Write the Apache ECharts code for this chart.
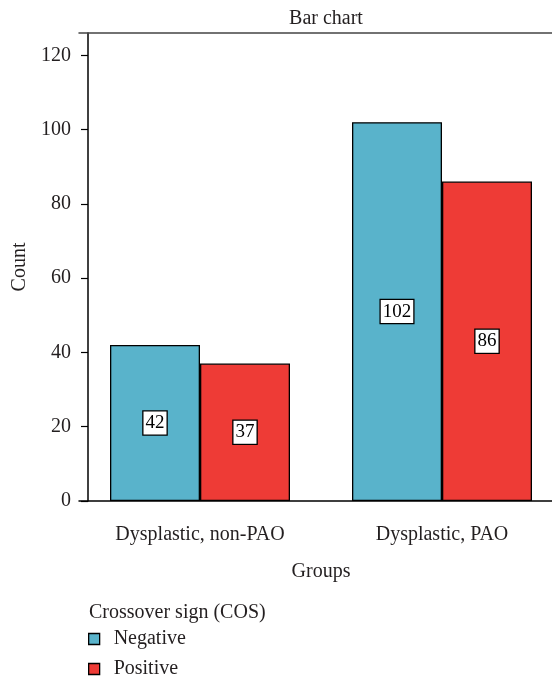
<!DOCTYPE html>
<html><head><meta charset="utf-8">
<script src="https://cdn.jsdelivr.net/npm/echarts@6/dist/echarts.min.js"></script>
<style>html,body{margin:0;padding:0;background:#fff}#c{width:552px;height:680px}</style>
</head><body><div id="c"></div>
<script>
const categories = ['Dysplastic, non-PAO', 'Dysplastic, PAO'];
const negativeValues = [42, 102];
const positiveValues = [37, 86];
const seriesNames = ['Negative', 'Positive'];
const yTicks = [0, 20, 40, 60, 80, 100, 120];

const FONT = '"Liberation Serif", "DejaVu Serif", serif';
const TXT = '#231f20';
const FS = 20;
const chart = echarts.init(document.getElementById('c'), null, {renderer: 'canvas'});
const labelCfg = {
  show: true, position: 'inside', color: '#000', fontFamily: FONT, fontSize: 19,
  backgroundColor: '#fff', borderColor: '#000', borderWidth: 1.3, padding: [3, 2, 1, 2]
};
chart.setOption({
  animation: false,
  title: [
    {text: 'Bar chart', left: 321, top: 4, textAlign: 'center',
     textStyle: {fontFamily: FONT, fontSize: FS, fontWeight: 'normal', color: TXT}},
    {text: 'Crossover sign (COS)', left: 84, top: 598,
     textStyle: {fontFamily: FONT, fontSize: FS, fontWeight: 'normal', color: TXT}}
  ],
  legend: {
    orient: 'vertical', left: 88, top: 629, padding: 0, itemGap: 10, itemWidth: 11, itemHeight: 11,
    icon: 'rect',
    textStyle: {fontFamily: FONT, fontSize: FS, color: TXT, padding: [0, 0, 0, 9]},
    data: seriesNames.map(n => ({name: n, itemStyle: {borderColor: '#000', borderWidth: 1.3}}))
  },
  grid: {left: 79, top: 33, width: 484, bottom: 179, containLabel: false, outerBoundsMode: 'none'},
  xAxis: [{
    type: 'category', data: categories,
    name: 'Groups', nameLocation: 'middle', nameGap: 61,
    nameTextStyle: {fontFamily: FONT, fontSize: FS, color: TXT},
    axisLine: {lineStyle: {color: '#000', width: 1.5}},
    axisTick: {alignWithLabel: true, length: 7, lineStyle: {color: '#000', width: 1.2}},
    axisLabel: {fontFamily: FONT, fontSize: FS, color: TXT, margin: 24}
  }, {
    type: 'category', position: 'top', data: categories,
    axisLine: {lineStyle: {color: '#444', width: 1.5}},
    axisTick: {show: false}, axisLabel: {show: false}
  }],
  yAxis: {
    type: 'value', min: 0, max: 126, interval: 20, offset: -9,
    name: 'Count', nameLocation: 'middle', nameRotate: 90, nameGap: 57,
    nameTextStyle: {fontFamily: FONT, fontSize: FS, color: TXT},
    axisLine: {show: true, lineStyle: {color: '#000', width: 1.5}},
    axisTick: {show: true, length: 7, customValues: yTicks, lineStyle: {color: '#000', width: 1.2}},
    axisLabel: {fontFamily: FONT, fontSize: FS, color: TXT, margin: 17, customValues: yTicks},
    splitLine: {show: false}
  },
  series: [
    {name: seriesNames[0], type: 'bar', data: negativeValues, barWidth: 90, barGap: '0%',
     itemStyle: {color: '#59b3cb', borderColor: '#000', borderWidth: 1.3}, label: labelCfg},
    {name: seriesNames[1], type: 'bar', data: positiveValues, barWidth: 90, barGap: '0%',
     itemStyle: {color: '#ee3b36', borderColor: '#000', borderWidth: 1.3}, label: labelCfg}
  ]
});
</script></body></html>
